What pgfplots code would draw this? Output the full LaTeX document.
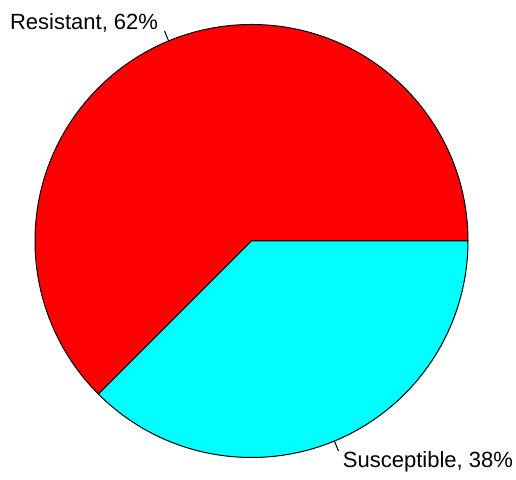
\documentclass[border=0pt]{standalone}
\usepackage{fontspec}
\setmainfont{Liberation Sans}
\usepackage{pgfplots}
\usepackage{pgfplotstable}
\pgfplotsset{compat=1.18}
\usetikzlibrary{calc}
\definecolor{pieRed}{RGB}{255,0,0}
\definecolor{pieCyan}{RGB}{0,255,255}

\pgfplotstableread{
label value
Resistant 62.5
Susceptible 37.5
}\piedata

\pgfplotstablegetelem{0}{value}\of\piedata \let\valA\pgfplotsretval
\pgfplotstablegetelem{1}{value}\of\piedata \let\valB\pgfplotsretval
\pgfmathsetmacro\fracA{\valA/(\valA+\valB)}
\pgfmathsetmacro\angA{360*\fracA}
\pgfmathsetmacro\midA{\angA/2}
\pgfmathsetmacro\midB{(\angA+360)/2}

\begin{document}
\begin{tikzpicture}
  \begin{axis}[
      width=258pt, height=238pt,
      scale only axis,
      hide axis,
      xmin=0, xmax=516,
      ymin=0, ymax=476,
      clip=false,
    ]
    % pie centre (251.5,235), radius 216.5 units = 108.25pt
    \path (rel axis cs:0,0) rectangle (rel axis cs:1,1);
    \filldraw[fill=pieRed, draw=black, line width=0.5pt]
      (axis cs:251.5,235) -- ++(0:108.25pt) arc[start angle=0, end angle=\angA, radius=108.25pt] -- cycle;
    \filldraw[fill=pieCyan, draw=black, line width=0.5pt]
      (axis cs:251.5,235) -- ++(\angA:108.25pt) arc[start angle=\angA, end angle=360, radius=108.25pt] -- cycle;
    % labels
    \draw[line width=0.5pt] (axis cs:251.5,235) ++(\midA:108.25pt) -- ++(\midA:5.4pt);
    \draw[line width=0.5pt] (axis cs:251.5,235) ++(\midB:108.25pt) -- ++(\midB:5.4pt);
    \node[anchor=east, inner sep=0pt, font=\fontsize{11}{13}\selectfont]
      at ($(axis cs:251.5,235)+(\midA:119pt)+(-1pt,-0.8pt)$) {Resistant, 62\%};
    \node[anchor=west, inner sep=0pt, font=\fontsize{11}{13}\selectfont]
      at ($(axis cs:251.5,235)+(\midB:119pt)+(0pt,-0.5pt)$) {Susceptible, 38\%};
  \end{axis}
\end{tikzpicture}
\end{document}
